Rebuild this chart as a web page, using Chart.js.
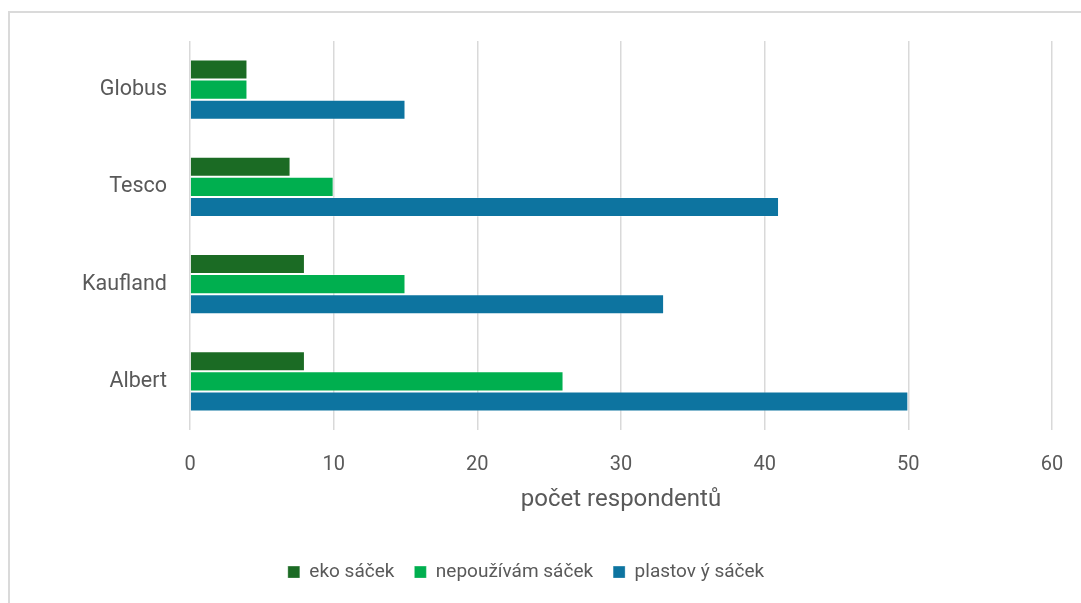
<!DOCTYPE html>
<html>
<head>
<meta charset="utf-8">
<script src="https://cdn.jsdelivr.net/npm/chart.js@4"></script>
<style>
  html, body { margin: 0; padding: 0; background: #fff; overflow: hidden; }
  #frame { position: absolute; left: 8px; top: 11px; width: 1100px; height: 620px; border: 2px solid #dadada; }
  #wrap { position: absolute; left: 0; top: 0; width: 1081px; height: 603px; }
</style>
</head>
<body>
<div id="frame"></div>
<div id="wrap"><canvas id="chart" width="1081" height="603"></canvas></div>
<script>
const stores = ['Globus', 'Tesco', 'Kaufland', 'Albert'];
const ekoSacek = [4, 7, 8, 8];
const nepouzivam = [4, 10, 15, 26];
const plastovy = [15, 41, 33, 50];
const xTicks = [0, 10, 20, 30, 40, 50, 60];

const textColor = '#595959';

const ctx = document.getElementById('chart').getContext('2d');

new Chart(ctx, {
  type: 'bar',
  data: {
    labels: stores,
    datasets: [
      { label: 'eko sáček', data: ekoSacek, backgroundColor: '#1b6b24' },
      { label: 'nepoužívám sáček', data: nepouzivam, backgroundColor: '#00af4f' },
      { label: 'plastov ý sáček', data: plastovy, backgroundColor: '#0d74a0' }
    ]
  },
  options: {
    indexAxis: 'y',
    responsive: false,
    animation: false,
    datasets: {
      bar: {
        categoryPercentage: 0.62,
        barPercentage: 1,
        borderWidth: 1,
        borderColor: 'rgba(255,255,255,0.3)'
      }
    },
    layout: { padding: { left: 0, right: 29, top: 41, bottom: 11.4 } },
    scales: {
      x: {
        min: 0,
        max: 60,
        afterBuildTicks: (scale) => { scale.ticks = xTicks.map(v => ({ value: v })); },
        afterFit: (scale) => {
          scale.height = 112.6;
          scale.paddingLeft = 0;
          scale.paddingRight = 0;
        },
        grid: { color: '#d9d9d9', lineWidth: 1.5, drawTicks: false },
        border: { display: false },
        ticks: { color: textColor, font: { family: 'Roboto', size: 20 }, padding: 23 },
        title: {
          display: true,
          text: 'počet respondentů',
          color: textColor,
          font: { family: 'Roboto', size: 24 },
          padding: { top: 0, bottom: 28 }
        }
      },
      y: {
        afterFit: (scale) => { scale.width = 190; },
        grid: { display: false, drawTicks: false },
        border: { display: false },
        ticks: { color: textColor, font: { family: 'Roboto', size: 21.5 }, padding: 23 }
      }
    },
    plugins: {
      legend: {
        position: 'bottom',
        labels: {
          color: textColor,
          font: { family: 'Roboto', size: 19 },
          boxWidth: 12,
          boxHeight: 12,
          padding: 20,
          useBorderRadius: false
        }
      },
      tooltip: { enabled: false }
    }
  }
});
</script>
</body>
</html>
